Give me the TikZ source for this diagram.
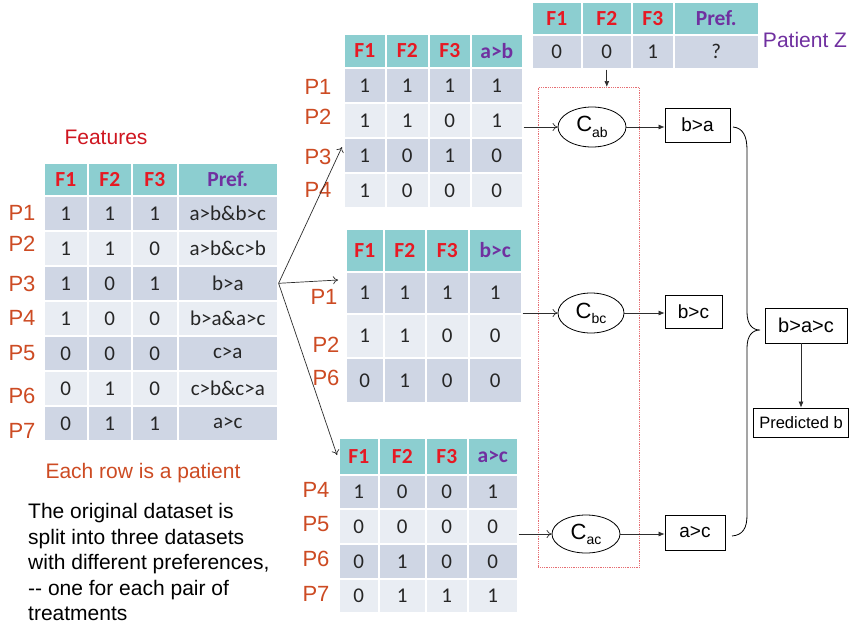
\documentclass[tikz,border=0pt]{standalone}
\usepackage{fontspec}
\setmainfont{Liberation Sans}
\newfontfamily\calib{Carlito}
\usetikzlibrary{arrows.meta,shapes.geometric}
\definecolor{hdr}{RGB}{140,206,208}
\definecolor{rowd}{RGB}{207,214,228}
\definecolor{rowl}{RGB}{233,237,243}
\definecolor{plab}{RGB}{205,75,35}
\definecolor{fred}{RGB}{230,25,35}
\definecolor{fpur}{RGB}{112,48,160}
\definecolor{boxred}{RGB}{230,110,115}
\definecolor{ln}{RGB}{45,45,45}
\newcommand\setcols[5]{\def\cA{#1}\def\cB{#2}\def\cC{#3}\def\cD{#4}\def\cE{#5}}
% name, y1, y2, fill, four contents
\newcommand\trow[8]{%
  \node[cell,fill=#4,minimum width=\cB-\cA,minimum height=#3-#2] (#1-1) at (\cA,#2) {#5};
  \node[cell,fill=#4,minimum width=\cC-\cB,minimum height=#3-#2] (#1-2) at (\cB,#2) {#6};
  \node[cell,fill=#4,minimum width=\cD-\cC,minimum height=#3-#2] (#1-3) at (\cC,#2) {#7};
  \node[cell,fill=#4,minimum width=\cE-\cD,minimum height=#3-#2] (#1-4) at (\cD,#2) {#8};}
\newcommand\hrow[4]{%
  \node[hcell,minimum width=\cB-\cA,minimum height=#3-#2] (#1-1) at (\cA,#2) {F1};
  \node[hcell,minimum width=\cC-\cB,minimum height=#3-#2] (#1-2) at (\cB,#2) {F2};
  \node[hcell,minimum width=\cD-\cC,minimum height=#3-#2] (#1-3) at (\cC,#2) {F3};
  \node[hcell,text=fpur,minimum width=\cE-\cD,minimum height=#3-#2] (#1-4) at (\cD,#2) {#4};}
\begin{document}
\begin{tikzpicture}[x=1pt,y=-1pt,
  cell/.style={draw=white,line width=1.6pt,inner sep=0pt,anchor=north west,
    font=\calib\fontsize{21}{25}\selectfont,text=black!85},
  hcell/.style={cell,fill=hdr,text=fred,font=\calib\bfseries\fontsize{21.5}{25}\selectfont},
  plabel/.style={text=plab,font=\fontsize{22}{26}\selectfont,inner sep=0pt},
  clf/.style={ellipse,draw=black,line width=0.8pt,inner sep=0pt,
    font=\fontsize{22}{26}\selectfont},
  res/.style={draw=black,line width=0.8pt,inner sep=0pt,font=\fontsize{19}{23}\selectfont},
  inarr/.style={draw=ln,line width=0.7pt,-{To[length=5pt,width=8pt]}},
  outarr/.style={draw=ln,line width=0.7pt,-{Latex[length=6pt,width=5pt]}}
]
\fill[white] (0,0) rectangle (850,629);
\useasboundingbox (0,0) rectangle (850,629);

% ---------- left table ----------
\node[text=fred!90!black,font=\fontsize{21}{25}\selectfont,inner sep=0pt] (feat) at (106,137) {Features};
\setcols{43}{87}{131}{177}{277}
\hrow{L0}{162}{195}{Pref.}
\trow{L1}{195}{230}{rowd}{1}{1}{1}{a>b\&b>c}
\trow{L2}{230}{265}{rowl}{1}{1}{0}{a>b\&c>b}
\trow{L3}{265}{300}{rowd}{1}{0}{1}{b>a}
\trow{L4}{300}{335}{rowl}{1}{0}{0}{b>a\&a>c}
\trow{L5}{335}{370}{rowd}{0}{0}{0}{c>a}
\trow{L6}{370}{405}{rowl}{0}{1}{0}{c>b\&c>a}
\trow{L7}{405}{440}{rowd}{0}{1}{1}{a>c}
\node[plabel] (lp1) at (22,213) {P1};
\node[plabel] (lp2) at (22,244) {P2};
\node[plabel] (lp3) at (22,284) {P3};
\node[plabel] (lp4) at (22,318) {P4};
\node[plabel] (lp5) at (22,353) {P5};
\node[plabel] (lp6) at (22,396) {P6};
\node[plabel] (lp7) at (22,431) {P7};
\node[text=plab,font=\fontsize{21}{25}\selectfont,inner sep=0pt] (each) at (143,473) {Each row is a patient};
\node[anchor=north west,align=left,inner sep=0pt,font=\fontsize{21}{25.6}\selectfont] (desc) at (28,503)
  {The original dataset is\\split into three datasets\\with different preferences,\\-{}- one for each pair of\\treatments};

% ---------- table a>b ----------
\setcols{343}{385}{428}{470}{522}
\hrow{A0}{33}{67}{a>b}
\trow{A1}{67}{102}{rowd}{1}{1}{1}{1}
\trow{A2}{102}{137}{rowl}{1}{1}{0}{1}
\trow{A3}{137}{172}{rowd}{1}{0}{1}{0}
\trow{A4}{172}{207}{rowl}{1}{0}{0}{0}
\node[plabel] (ap1) at (318,87) {P1};
\node[plabel] (ap2) at (318,117) {P2};
\node[plabel] (ap3) at (318,157) {P3};
\node[plabel] (ap4) at (318,190) {P4};

% ---------- table b>c ----------
\setcols{345}{383}{425}{468}{521}
\hrow{B0}{228}{271}{b>c}
\trow{B1}{271}{313}{rowd}{1}{1}{1}{1}
\trow{B2}{313}{357}{rowl}{1}{1}{0}{0}
\trow{B3}{357}{402}{rowd}{0}{1}{0}{0}
\node[plabel] (bp1) at (324,297) {P1};
\node[plabel] (bp2) at (326,345) {P2};
\node[plabel] (bp6) at (326,378) {P6};

% ---------- table a>c ----------
\setcols{338}{378}{425}{467}{517}
\hrow{C0}{437}{474}{a>c}
\trow{C1}{474}{508}{rowd}{1}{0}{0}{1}
\trow{C2}{508}{543}{rowl}{0}{0}{0}{0}
\trow{C3}{543}{578}{rowd}{0}{1}{0}{0}
\trow{C4}{578}{612}{rowl}{0}{1}{1}{1}
\node[plabel] (cp4) at (316,490) {P4};
\node[plabel] (cp5) at (316,524) {P5};
\node[plabel] (cp6) at (316,559) {P6};
\node[plabel] (cp7) at (316,594) {P7};

% ---------- patient Z ----------
\setcols{531}{581}{631}{673}{758}
\hrow{Z0}{1}{34}{Pref.}
\trow{Z1}{34}{68}{rowd}{0}{0}{1}{?}
\node[text=fpur,font=\fontsize{21}{25}\selectfont,inner sep=0pt] (patz) at (805,40) {Patient Z};

% ---------- split arrows ----------
\coordinate (tA) at (342,147);
\coordinate (tB) at (338,280);
\coordinate (tC) at (337,455);
\draw[inarr] (L3-4.east) -- (tA);
\draw[inarr] (L3-4.east) -- (tB);
\draw[inarr] (L3-4.east) -- (tC);

% ---------- classifiers ----------
\node[draw=boxred,densely dotted,line width=0.8pt,minimum width=101,minimum height=480,
  anchor=north west,inner sep=0pt] (redbox) at (538,87) {};
\node[clf,minimum width=68,minimum height=40] (Cab) at (592,127) {C\raisebox{-0.45ex}{\fontsize{14}{16}\selectfont ab}};
\node[clf,minimum width=66,minimum height=40] (Cbc) at (591,313) {C\raisebox{-0.45ex}{\fontsize{14}{16}\selectfont bc}};
\node[clf,minimum width=68,minimum height=38] (Cac) at (586,534) {C\raisebox{-0.45ex}{\fontsize{14}{16}\selectfont ac}};
\draw[outarr] (Z1-2.south) -- (Z1-2.south |- redbox.north);
\draw[inarr] (Cab.west -| A2-4.east) -- (Cab.west);
\draw[inarr] (Cbc.west -| B1-4.east) -- (Cbc.west);
\draw[inarr] (Cac.west -| C2-4.east) -- (Cac.west);

% ---------- results ----------
\node[res,minimum width=65,minimum height=34] (ba) at (697.5,125) {b>a};
\node[res,minimum width=57,minimum height=33] (bc) at (693.5,311.5) {b>c};
\node[res,minimum width=60,minimum height=35] (ac) at (695,532.5) {a>c};
\draw[outarr] (Cab.east) -- (Cab.east -| ba.west);
\draw[outarr] (Cbc.east) -- (Cbc.east -| bc.west);
\draw[outarr] (Cac.east) -- (Cac.east -| ac.west);

\draw[line width=0.8pt] (733,127) .. controls (743,128) and (747,136) .. (747,150) -- (747,312)
  .. controls (747,324) and (752,330) .. (760,330)
  .. controls (752,330) and (747,336) .. (747,348) -- (747,515)
  .. controls (747,528) and (743,535) .. (732,536);

\node[res,minimum width=82,minimum height=35,font=\fontsize{20}{24}\selectfont] (bac) at (806,325.5) {b>a>c};
\node[res,minimum width=95,minimum height=29,font=\fontsize{16.5}{20}\selectfont] (pred) at (801,422.5) {Predicted b};
\draw[outarr] (pred.north |- bac.south) -- (pred.north);
\end{tikzpicture}
\end{document}
